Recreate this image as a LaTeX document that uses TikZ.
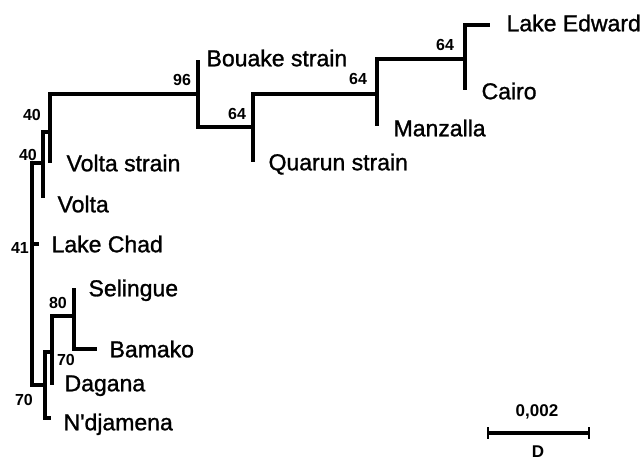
\documentclass[tikz,border=0pt]{standalone}
\usepackage{fontspec}
\setmainfont{Liberation Sans}
\newfontfamily\taxonfont[FakeBold=1.2]{Liberation Sans}
\usetikzlibrary{positioning}

\tikzset{
  taxon/.style={font=\taxonfont\fontsize{23}{26}\selectfont, inner sep=0pt, text height=16.5pt, text depth=0pt},
  boot/.style={font=\fontsize{16}{18}\selectfont\bfseries, inner sep=0pt},
  scalelbl/.style={font=\fontsize{17}{20}\selectfont\bfseries, inner sep=0pt},
}

\begin{document}
\begin{tikzpicture}[x=1pt,y=-1pt,line width=3.2pt,
    every edge/.style={draw,line width=3.2pt,to path={|- (\tikztotarget)}}]
    \useasboundingbox (0,0) rectangle (644,461);
    % internal nodes
    \coordinate (r)    at (32,244);
    \coordinate (n40b) at (43,163);
    \coordinate (n40a) at (50,132);
    \coordinate (n96)  at (198,94);
    \coordinate (n64a) at (253,127);
    \coordinate (n64b) at (377,94);
    \coordinate (n64c) at (465,59);
    \coordinate (n70b) at (45,385);
    \coordinate (n70a) at (52,352);
    \coordinate (n80)  at (74,316);
    % tips
    \coordinate (ledw)   at (490,25);
    \coordinate (cairo)  at (465,90);
    \coordinate (manz)   at (377,126);
    \coordinate (bouake) at (198,60);
    \coordinate (quarun) at (253,162);
    \coordinate (vstr)   at (50,163);
    \coordinate (volta)  at (43,198);
    \coordinate (chad)   at (39,244);
    \coordinate (sel)    at (74,288);
    \coordinate (bam)    at (97,349);
    \coordinate (dag)    at (52,385);
    \coordinate (ndj)    at (51,418);

    \path (r) edge (n40b) edge (chad) edge (n70b)
        (n40b) edge (n40a) edge (volta)
        (n40a) edge (n96) edge (vstr)
        (n96) edge (bouake) edge (n64a)
        (n64a) edge (n64b) edge (quarun)
        (n64b) edge (n64c) edge (manz)
        (n64c) edge (ledw) edge (cairo)
        (n70b) edge (n70a) edge (ndj)
        (n70a) edge (n80) edge (dag)
        (n80) edge (sel) edge (bam)
        ;

    % taxon names
    \node[taxon, right=15pt of ledw, yshift=2pt] (ledw_l) {Lake Edward};
    \node[taxon, right=15pt of cairo, yshift=-1pt] (cairo_l) {Cairo};
    \node[taxon, right=15pt of manz, yshift=-2pt] (manz_l) {Manzalla};
    \node[taxon, right=7pt of bouake, yshift=2pt] (bouake_l) {Bouake strain};
    \node[taxon, right=14pt of quarun] (quarun_l) {Quarun strain};
    \node[taxon, right=15pt of vstr] (vstr_l) {Volta strain};
    \node[taxon, right=13pt of volta, yshift=-6pt] (volta_l) {Volta};
    \node[taxon, right=11pt of chad] (chad_l) {Lake Chad};
    \node[taxon, right=13pt of sel] (sel_l) {Selingue};
    \node[taxon, right=11pt of bam] (bam_l) {Bamako};
    \node[taxon, right=11pt of dag, yshift=2pt] (dag_l) {Dagana};
    \node[taxon, right=11pt of ndj, yshift=-4pt] (ndj_l) {N\textquotesingle djamena};

    % bootstrap values
    \node[boot] (b64c) at (445,45) {64};
    \node[boot] (b64b) at (358,79) {64};
    \node[boot] (b64a) at (237,114) {64};
    \node[boot] (b96)  at (182,80) {96};
    \node[boot] (b40a) at (32,115) {40};
    \node[boot] (b40b) at (28,155) {40};
    \node[boot] (b41)  at (20,248) {41};
    \node[boot] (b80)  at (58,303) {80};
    \node[boot] (b70a) at (66,360) {70};
    \node[boot] (b70b) at (24,400) {70};

    % scale bar
    \coordinate (barL) at (488,433);
    \coordinate (barR) at (589,433);
    \draw (barL) -- (barR);
    \draw[line width=1.4pt] ([yshift=6pt]barL) -- ([yshift=-6pt]barL);
    \draw[line width=1.4pt] ([yshift=6pt]barR) -- ([yshift=-6pt]barR);
    \node[scalelbl] (barval) at (537,412) {0,002};
    \node[scalelbl] (barunit) at (538,452) {D};
\end{tikzpicture}
\end{document}
